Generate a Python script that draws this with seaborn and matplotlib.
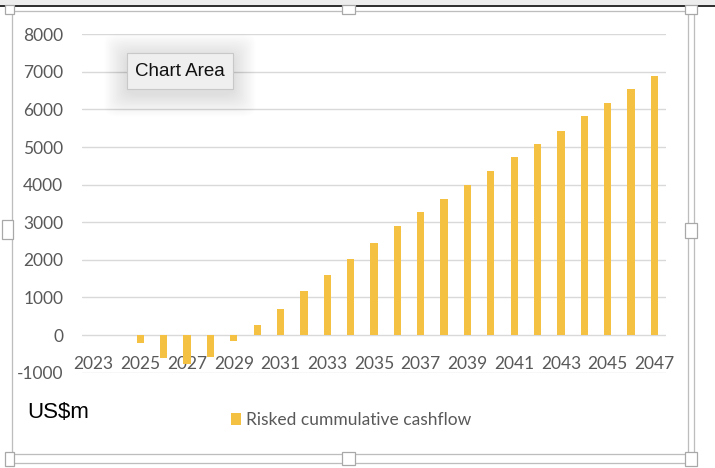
import matplotlib
matplotlib.use("Agg")
import matplotlib.pyplot as plt
from matplotlib.lines import Line2D
from matplotlib.patches import Rectangle, FancyBboxPatch
import seaborn as sns
import pandas as pd

# Data
years = [2023, 2024, 2025, 2026, 2027, 2028, 2029, 2030, 2031, 2032, 2033, 2034, 2035,
         2036, 2037, 2038, 2039, 2040, 2041, 2042, 2043, 2044, 2045, 2046, 2047]
cashflow = [0, 0, -200, -600, -780, -590, -150, 270, 700, 1160, 1600, 2020, 2460,
            2890, 3280, 3630, 4000, 4370, 4730, 5090, 5440, 5820, 6180, 6540, 6900]
series_name = "Risked cummulative cashflow"
y_ticks = [-1000, 0, 1000, 2000, 3000, 4000, 5000, 6000, 7000, 8000]
unit_label = "US$m"

GOLD = "#F4C142"
GRID = "#D9D9D9"
TXT = "#595959"
FRAME = "#BDBDBD"

sns.set_theme(style="white")
plt.rcParams["font.family"] = ["Lato", "DejaVu Sans"]

W, H = 715, 468
fig = plt.figure(figsize=(W / 100, H / 100), dpi=100)
fig.patch.set_facecolor("white")


def fx(x):
    return x / W


def fy(y):
    return 1 - y / H


def hline(x0, x1, y, color=FRAME, lw=1.0, z=10):
    fig.add_artist(Line2D([fx(x0), fx(x1)], [fy(y), fy(y)], transform=fig.transFigure,
                          color=color, lw=lw * 0.72, zorder=z, solid_capstyle="butt"))


def vline(x, y0, y1, color=FRAME, lw=1.0, z=10):
    fig.add_artist(Line2D([fx(x), fx(x)], [fy(y0), fy(y1)], transform=fig.transFigure,
                          color=color, lw=lw * 0.72, zorder=z, solid_capstyle="butt"))


def handle(x0, y0, x1, y1):
    fig.add_artist(Rectangle((fx(x0), fy(y1)), fx(x1) - fx(x0), fy(y0) - fy(y1),
                             transform=fig.transFigure, facecolor="white",
                             edgecolor="#A8A8A8", lw=0.9, zorder=12))


# Plot area
ax = fig.add_axes([82 / W, fy(372.7), 584 / W, (372.7 - 34.3) / H])
df = pd.DataFrame({"year": [str(y) for y in years], "value": cashflow, "series": series_name})
sns.barplot(data=df, x="year", y="value", hue="series", palette=[GOLD], width=0.31,
            saturation=1, linewidth=0, ax=ax, zorder=3)

ax.set_ylim(-1000, 8000)
ax.set_xlim(-0.5, len(years) - 0.5)
ax.set_yticks(y_ticks)
ax.set_yticklabels([str(v) for v in y_ticks])
ax.set_xticks(range(0, len(years), 2))
ax.set_xticklabels([str(years[i]) for i in range(0, len(years), 2)])
ax.yaxis.grid(True, color=GRID, lw=1.4 * 0.72, zorder=0)
ax.set_axisbelow(True)
for s in ax.spines.values():
    s.set_visible(False)
ax.tick_params(axis="y", length=0, pad=13.5, labelsize=12.5, labelcolor=TXT)
ax.tick_params(axis="x", length=0, pad=-12, labelsize=12.5, labelcolor=TXT)
ax.set_xlabel("")
ax.set_ylabel("")

handles, labels = ax.get_legend_handles_labels()
if ax.get_legend() is not None:
    ax.get_legend().remove()
fig.legend(handles, labels, loc="center", bbox_to_anchor=(fx(351), fy(420)),
           frameon=False, fontsize=12.5, labelcolor=TXT, handlelength=0.6,
           handleheight=0.7, handletextpad=0.3, borderpad=0, borderaxespad=0)

fig.text(fx(27), fy(412), unit_label, fontsize=16, color="black", va="center", ha="left",
         family=["Liberation Sans", "DejaVu Sans"])

# Window chrome around the chart
fig.add_artist(Rectangle((0, fy(5)), 1, fy(0) - fy(5), transform=fig.transFigure,
                         facecolor="#EDEDED", edgecolor="none", zorder=9))
hline(0, W, 5.5, color="black", lw=1.6)
hline(12, 688, 10.5, lw=1.3)
vline(12, 10.5, 454, lw=1.3)
vline(688, 10.5, 462.5, lw=1.3)
vline(694, 10.5, 462.5, lw=1.3)
hline(12, 694, 454, lw=1.3)
hline(12, 694, 462.5, lw=1.3)
handle(5, 5, 14, 14)
handle(342, 5, 355, 14)
handle(685, 5, 697, 14)
handle(2, 220, 13, 239)
handle(685, 223, 697, 238)
handle(5, 452, 14, 466)
handle(342, 452, 355, 465)
handle(685, 452, 697, 466)

# "Chart Area" tooltip with soft shadow
bx0, by0, bx1, by1 = 127, 53, 233, 89
for i in range(16, 0, -1):
    g = i * 1.4
    fig.add_artist(FancyBboxPatch((fx(bx0 - g), fy(by1 + 5 + g)),
                                  fx(bx1 + g) - fx(bx0 - g), fy(by0 + 3 - g) - fy(by1 + 5 + g),
                                  boxstyle="round,pad=0,rounding_size=0.02",
                                  transform=fig.transFigure, facecolor="black",
                                  edgecolor="none", alpha=0.008, zorder=13))
fig.add_artist(Rectangle((fx(bx0), fy(by1)), fx(bx1) - fx(bx0), fy(by0) - fy(by1),
                         transform=fig.transFigure, facecolor="#EFEFEF",
                         edgecolor="#C8C8C8", lw=0.8, zorder=14))
fig.text(fx((bx0 + bx1) / 2), fy((by0 + by1) / 2), "Chart Area", fontsize=13.5,
         color="#111111", ha="center", va="center", zorder=15,
         family=["Liberation Sans", "DejaVu Sans"])

fig.savefig("out.png", dpi=100)
